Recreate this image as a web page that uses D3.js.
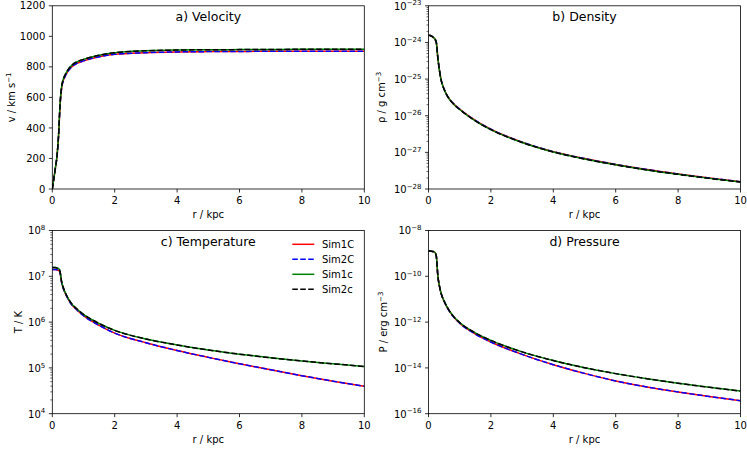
<!DOCTYPE html>
<html>
<head>
<meta charset="utf-8">
<script src="https://cdn.jsdelivr.net/npm/d3@7"></script>
<style>
body { margin: 0; background: #fff; }
text { font-family: "DejaVu Sans", sans-serif; fill: #000; }
</style>
</head>
<body>
<svg id="chart"></svg>
<script>
// radius grid (kpc)
var radius = [0, 0.05, 0.1, 0.15, 0.2, 0.25, 0.3, 0.35, 0.4, 0.5, 0.6, 0.8, 1.0, 1.5, 2, 3, 4, 5, 6, 7, 8, 9, 10];

// velocity, km/s  (C = Sim1C/Sim2C, c = Sim1c/Sim2c)
var velC = [0, 70, 138, 212, 345, 552, 662, 708, 733, 770, 796, 824, 839, 866, 882, 893, 898, 900, 901, 902, 902, 903, 903];
var velc = [0, 70, 140, 215, 350, 560, 672, 718, 743, 780, 806, 834, 849, 876, 893, 905, 910, 912, 913, 914, 915, 915, 915];

// log10 density, g cm^-3
var logRhoC = [-23.80, -23.81, -23.83, -23.86, -23.90, -24.00, -24.42, -24.75, -25.00, -25.27, -25.45, -25.67, -25.82, -26.13, -26.37, -26.72, -26.98, -27.17, -27.33, -27.47, -27.59, -27.70, -27.80];
var logRhoc = [-23.80, -23.81, -23.83, -23.86, -23.90, -24.00, -24.43, -24.76, -25.01, -25.28, -25.46, -25.68, -25.83, -26.14, -26.38, -26.73, -26.99, -27.18, -27.34, -27.48, -27.60, -27.71, -27.81];

// log10 temperature, K
var logTempC = [7.15, 7.15, 7.15, 7.14, 7.13, 7.07, 6.86, 6.74, 6.65, 6.51, 6.40, 6.26, 6.14, 5.93, 5.76, 5.55, 5.38, 5.23, 5.09, 4.96, 4.83, 4.71, 4.60];
var logTempc = [7.19, 7.19, 7.19, 7.18, 7.17, 7.10, 6.88, 6.76, 6.67, 6.53, 6.42, 6.28, 6.17, 5.97, 5.82, 5.63, 5.50, 5.39, 5.30, 5.22, 5.15, 5.09, 5.03];

// log10 pressure, erg cm^-3
var logPresC = [-8.90, -8.90, -8.91, -8.92, -8.95, -9.12, -9.99, -10.43, -10.73, -11.09, -11.37, -11.77, -12.05, -12.52, -12.87, -13.41, -13.86, -14.24, -14.57, -14.83, -15.05, -15.25, -15.43];
var logPresc = [-8.90, -8.90, -8.91, -8.92, -8.95, -9.12, -9.98, -10.42, -10.72, -11.08, -11.35, -11.75, -12.02, -12.47, -12.80, -13.30, -13.68, -13.99, -14.25, -14.47, -14.67, -14.85, -15.01];

var simNames = ["Sim1C", "Sim2C", "Sim1c", "Sim2c"];
var xTicks = [0, 2, 4, 6, 8, 10];
var velTicks = [0, 200, 400, 600, 800, 1000, 1200];
var rhoExps = [-28, -27, -26, -25, -24, -23];
var tempExps = [4, 5, 6, 7, 8];
var presExps = [-16, -14, -12, -10, -8];

var svgWidth = 747, svgHeight = 449;
var colX = [52.3, 428.5];
var rowY = [5.8, 230.5];
var pw = 312, ph = 183.2;

var styles = [
  {color: "#ff0000", dash: null},
  {color: "#0000ff", dash: "5.55,2.4"},
  {color: "#008000", dash: null},
  {color: "#000000", dash: "5.55,2.4"}
];

var svg = d3.select("#chart")
  .attr("width", svgWidth)
  .attr("height", svgHeight);

function pow10(a) { return a.map(function(d) { return Math.pow(10, d); }); }

var panels = [
  {title: "a) Velocity", col: 0, row: 0, log: false, domain: [0, 1200], ticks: velTicks,
   label: ["v / km s", "\u22121"], labelX: 11.7,
   series: [velC, velC, velc, velc]},
  {title: "b) Density", col: 1, row: 0, log: true, domain: [1e-28, 1e-23], exps: rhoExps, minor: true,
   label: ["\u03c1 / g cm", "\u22123"], labelX: 381.7,
   series: [pow10(logRhoC), pow10(logRhoC), pow10(logRhoc), pow10(logRhoc)]},
  {title: "c) Temperature", col: 0, row: 1, log: true, domain: [1e4, 1e8], exps: tempExps, minor: true,
   label: ["T / K", ""], labelX: 18.3, legend: true,
   series: [pow10(logTempC), pow10(logTempC), pow10(logTempc), pow10(logTempc)]},
  {title: "d) Pressure", col: 1, row: 1, log: true, domain: [1e-16, 1e-8], exps: presExps, minor: false,
   label: ["P / erg cm", "\u22123"], labelX: 383.3,
   series: [pow10(logPresC), pow10(logPresC), pow10(logPresc), pow10(logPresc)]}
];

function expText(e) {
  return (e < 0 ? "\u2212" : "") + Math.abs(e);
}

panels.forEach(function(p, pi) {
  var left = colX[p.col], top = rowY[p.row];
  var g = svg.append("g").attr("transform", "translate(" + left + "," + top + ")");

  var x = d3.scaleLinear().domain([0, 10]).range([0, pw]);
  var y = p.log ? d3.scaleLog().domain(p.domain).range([ph, 0])
                : d3.scaleLinear().domain(p.domain).range([ph, 0]);

  g.append("clipPath").attr("id", "clip" + pi)
    .append("rect").attr("width", pw).attr("height", ph);

  // curves
  var line = d3.line()
    .x(function(d) { return x(d[0]); })
    .y(function(d) { return y(d[1]); })
    .curve(d3.curveMonotoneX);

  p.series.forEach(function(vals, si) {
    var pts = radius.map(function(r, i) { return [r, vals[i]]; });
    g.append("path")
      .attr("clip-path", "url(#clip" + pi + ")")
      .attr("d", line(pts))
      .attr("fill", "none")
      .attr("stroke", styles[si].color)
      .attr("stroke-width", 1.5)
      .attr("stroke-dasharray", styles[si].dash);
  });

  // frame
  g.append("rect")
    .attr("width", pw).attr("height", ph)
    .attr("fill", "none").attr("stroke", "#000").attr("stroke-width", 0.8);

  // x axis
  xTicks.forEach(function(t) {
    g.append("line")
      .attr("x1", x(t)).attr("x2", x(t))
      .attr("y1", ph).attr("y2", ph + 3.5)
      .attr("stroke", "#000").attr("stroke-width", 0.8);
    g.append("text")
      .attr("x", x(t)).attr("y", ph + 15)
      .attr("text-anchor", "middle")
      .style("font-size", "10px")
      .text(t);
  });
  g.append("text")
    .attr("x", pw / 2).attr("y", ph + 29)
    .attr("text-anchor", "middle")
    .style("font-size", "10px")
    .text("r / kpc");

  // y axis
  if (!p.log) {
    p.ticks.forEach(function(t) {
      g.append("line")
        .attr("x1", -3.5).attr("x2", 0)
        .attr("y1", y(t)).attr("y2", y(t))
        .attr("stroke", "#000").attr("stroke-width", 0.8);
      g.append("text")
        .attr("x", -7).attr("y", y(t) + 3.6)
        .attr("text-anchor", "end")
        .style("font-size", "10px")
        .text(t);
    });
  } else {
    if (p.minor) {
      var lo = Math.round(Math.log10(p.domain[0])), hi = Math.round(Math.log10(p.domain[1]));
      for (var e = lo; e < hi; e++) {
        for (var m = 2; m <= 9; m++) {
          var v = m * Math.pow(10, e);
          g.append("line")
            .attr("x1", -2).attr("x2", 0)
            .attr("y1", y(v)).attr("y2", y(v))
            .attr("stroke", "#000").attr("stroke-width", 0.6);
        }
      }
    }
    p.exps.forEach(function(e) {
      var v = Math.pow(10, e);
      g.append("line")
        .attr("x1", -3.5).attr("x2", 0)
        .attr("y1", y(v)).attr("y2", y(v))
        .attr("stroke", "#000").attr("stroke-width", 0.8);
      var t = g.append("text")
        .attr("x", -7).attr("y", y(v) + 3.8)
        .attr("text-anchor", "end")
        .style("font-size", "10px");
      t.append("tspan").text("10");
      t.append("tspan").attr("dy", -4.2).style("font-size", "7px").text(expText(e));
    });
  }

  // y label
  var yl = svg.append("text")
    .attr("transform", "translate(" + p.labelX + "," + (top + ph / 2) + ") rotate(-90)")
    .attr("text-anchor", "middle")
    .attr("dy", "0.35em")
    .style("font-size", "10px");
  yl.append("tspan").text(p.label[0]);
  if (p.label[1]) {
    yl.append("tspan").attr("dy", -4).style("font-size", "7px").text(p.label[1]);
  }

  // title
  g.append("text")
    .attr("x", pw / 2).attr("y", 15)
    .attr("text-anchor", "middle")
    .style("font-size", "12.5px")
    .text(p.title);

  // legend
  if (p.legend) {
    simNames.forEach(function(name, i) {
      var ly = 13.8 + i * 15;
      g.append("line")
        .attr("x1", pw - 72).attr("x2", pw - 50)
        .attr("y1", ly).attr("y2", ly)
        .attr("stroke", styles[i].color)
        .attr("stroke-width", 1.5)
        .attr("stroke-dasharray", styles[i].dash);
      g.append("text")
        .attr("x", pw - 42.3).attr("y", ly + 3.6)
        .style("font-size", "10px")
        .text(name);
    });
  }
});
</script>
</body>
</html>
